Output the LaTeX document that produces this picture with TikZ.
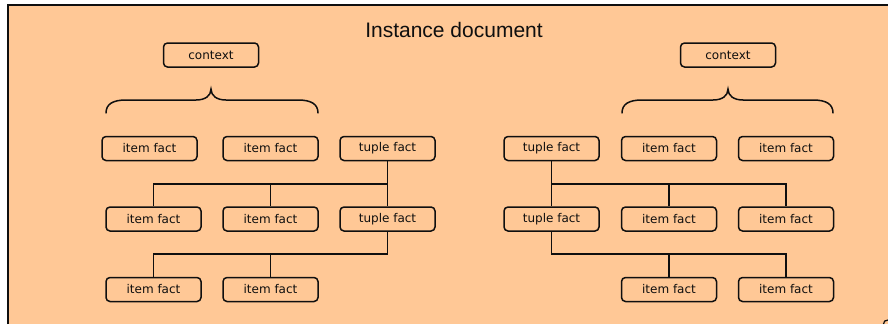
\documentclass[tikz,border=0pt]{standalone}
\usepackage{fontspec}
\setmainfont{DejaVu Sans}
\newfontfamily\titlefont{Liberation Sans}
\definecolor{panel}{RGB}{255,200,150}
\definecolor{ink}{RGB}{15,15,15}
\begin{document}
\begin{tikzpicture}[x=1pt,y=-1pt,
  factbox/.style={draw=ink, line width=1.5pt, rounded corners=4pt, fill=panel,
    minimum width=95pt, minimum height=24pt, inner sep=0pt,
    font=\fontsize{12}{14}\selectfont, text=ink},
  link/.style={draw=ink, line width=1.5pt},
  bracket/.style={draw=ink, line width=1.5pt, line cap=round}]
\useasboundingbox (0,0) rectangle (888,324);

% page background and the document panel, which runs on past the right and bottom edges
\fill[white] (0,0) rectangle (888,324);
\fill[panel] (8,5) rectangle (888,324);
\draw[ink, line width=2pt] (8,324) -- (8,5) -- (888,5);
\node[font=\titlefont\fontsize{21}{24}\selectfont, text=ink] (title) at (454,30) {Instance document};

% left group
\node[factbox] (ctxL) at (211,55) {context};
\node[factbox] (L1a) at (149.5,148.5) {item fact};
\node[factbox] (L1b) at (270.5,148.5) {item fact};
\node[factbox] (L1t) at (387.5,148.5) {tuple fact};
\node[factbox] (L2a) at (153.5,219) {item fact};
\node[factbox] (L2b) at (270.5,219) {item fact};
\node[factbox] (L2t) at (387.5,219) {tuple fact};
\node[factbox] (L3a) at (153.5,289.5) {item fact};
\node[factbox] (L3b) at (270.5,289.5) {item fact};

\draw[bracket] (106,113) .. controls (106,104) and (113,100) .. (126,100)
  -- (196,100) .. controls (205,100) and (211,96) .. (211,89)
  .. controls (211,96) and (217,100) .. (226,100)
  -- (298,100) .. controls (311,100) and (318,104) .. (318,113);

\coordinate (bL1) at (387.5,184);
\coordinate (bL2) at (387.5,254);
\draw[link] (L1t.south) -- (L2t.north);
\draw[link] (bL1) -| (L2a.north);
\draw[link] (L2b.north) -- (L2b.north |- bL1);
\draw[link] (L2t.south) -- (bL2) -| (L3a.north);
\draw[link] (L3b.north) -- (L3b.north |- bL2);

% right group
\node[factbox] (ctxR) at (728,55) {context};
\node[factbox] (R1t) at (551.5,148.5) {tuple fact};
\node[factbox] (R1a) at (669,148.5) {item fact};
\node[factbox] (R1b) at (786,148.5) {item fact};
\node[factbox] (R2t) at (551.5,219) {tuple fact};
\node[factbox] (R2a) at (669,219) {item fact};
\node[factbox] (R2b) at (786,219) {item fact};
\node[factbox] (R3a) at (669,289.5) {item fact};
\node[factbox] (R3b) at (786,289.5) {item fact};

\draw[bracket] (622,113) .. controls (622,104) and (629,100) .. (642,100)
  -- (713,100) .. controls (722,100) and (728,96) .. (728,89)
  .. controls (728,96) and (734,100) .. (743,100)
  -- (813,100) .. controls (826,100) and (833,104) .. (833,113);

\coordinate (bR1) at (551.5,184);
\coordinate (bR2) at (551.5,254);
\draw[link] (R1t.south) -- (R2t.north);
\draw[link] (bR1) -| (R2b.north);
\draw[link] (R2a.north) -- (R2a.north |- bR1);
\draw[link] (R2t.south) -- (bR2) -| (R3b.north);
\draw[link] (R3a.north) -- (R3a.north |- bR2);

% resize handle fragment in the lower right corner
\draw[ink, line width=1.2pt] (883.5,324) .. controls (883.5,321.5) and (885,320) .. (888,320);
\end{tikzpicture}
\end{document}
